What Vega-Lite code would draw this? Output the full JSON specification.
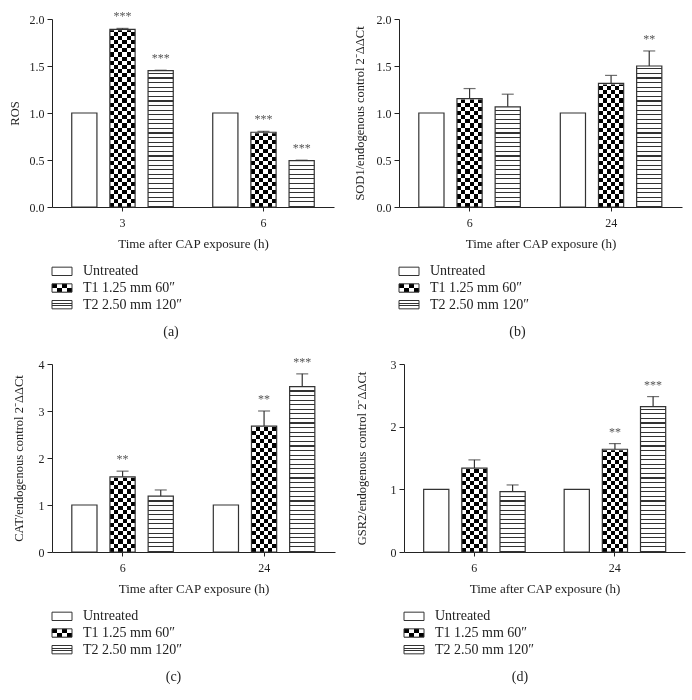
{
"$schema": "https://vega.github.io/schema/vega-lite/v6.json",
"background": "white",
"padding": {"left": 8, "top": 10, "right": 5, "bottom": 5},
"params": [
  {"name": "gChkV", "value": {"gradient": "linear", "x1": 0, "y1": 0, "x2": 1, "y2": 0, "stops": [
      {"offset": 0, "color": "black"}, {"offset": 0.16667, "color": "black"},
      {"offset": 0.16667, "color": "white"}, {"offset": 0.33333, "color": "white"},
      {"offset": 0.33333, "color": "black"}, {"offset": 0.5, "color": "black"},
      {"offset": 0.5, "color": "white"}, {"offset": 0.66667, "color": "white"},
      {"offset": 0.66667, "color": "black"}, {"offset": 0.83333, "color": "black"},
      {"offset": 0.83333, "color": "white"}, {"offset": 1, "color": "white"}]}},
  {"name": "gChkH", "value": {"gradient": "linear", "x1": 0, "y1": 0, "x2": 0, "y2": 1, "stops": [
      {"offset":0,"color":"black"},{"offset":0.02222,"color":"black"},
      {"offset":0.02222,"color":"white"},{"offset":0.04444,"color":"white"},
      {"offset":0.04444,"color":"black"},{"offset":0.06667,"color":"black"},
      {"offset":0.06667,"color":"white"},{"offset":0.08889,"color":"white"},
      {"offset":0.08889,"color":"black"},{"offset":0.11111,"color":"black"},
      {"offset":0.11111,"color":"white"},{"offset":0.13333,"color":"white"},
      {"offset":0.13333,"color":"black"},{"offset":0.15556,"color":"black"},
      {"offset":0.15556,"color":"white"},{"offset":0.17778,"color":"white"},
      {"offset":0.17778,"color":"black"},{"offset":0.2,"color":"black"},
      {"offset":0.2,"color":"white"},{"offset":0.22222,"color":"white"},
      {"offset":0.22222,"color":"black"},{"offset":0.24444,"color":"black"},
      {"offset":0.24444,"color":"white"},{"offset":0.26667,"color":"white"},
      {"offset":0.26667,"color":"black"},{"offset":0.28889,"color":"black"},
      {"offset":0.28889,"color":"white"},{"offset":0.31111,"color":"white"},
      {"offset":0.31111,"color":"black"},{"offset":0.33333,"color":"black"},
      {"offset":0.33333,"color":"white"},{"offset":0.35556,"color":"white"},
      {"offset":0.35556,"color":"black"},{"offset":0.37778,"color":"black"},
      {"offset":0.37778,"color":"white"},{"offset":0.4,"color":"white"},
      {"offset":0.4,"color":"black"},{"offset":0.42222,"color":"black"},
      {"offset":0.42222,"color":"white"},{"offset":0.44444,"color":"white"},
      {"offset":0.44444,"color":"black"},{"offset":0.46667,"color":"black"},
      {"offset":0.46667,"color":"white"},{"offset":0.48889,"color":"white"},
      {"offset":0.48889,"color":"black"},{"offset":0.51111,"color":"black"},
      {"offset":0.51111,"color":"white"},{"offset":0.53333,"color":"white"},
      {"offset":0.53333,"color":"black"},{"offset":0.55556,"color":"black"},
      {"offset":0.55556,"color":"white"},{"offset":0.57778,"color":"white"},
      {"offset":0.57778,"color":"black"},{"offset":0.6,"color":"black"},
      {"offset":0.6,"color":"white"},{"offset":0.62222,"color":"white"},
      {"offset":0.62222,"color":"black"},{"offset":0.64444,"color":"black"},
      {"offset":0.64444,"color":"white"},{"offset":0.66667,"color":"white"},
      {"offset":0.66667,"color":"black"},{"offset":0.68889,"color":"black"},
      {"offset":0.68889,"color":"white"},{"offset":0.71111,"color":"white"},
      {"offset":0.71111,"color":"black"},{"offset":0.73333,"color":"black"},
      {"offset":0.73333,"color":"white"},{"offset":0.75556,"color":"white"},
      {"offset":0.75556,"color":"black"},{"offset":0.77778,"color":"black"},
      {"offset":0.77778,"color":"white"},{"offset":0.8,"color":"white"},
      {"offset":0.8,"color":"black"},{"offset":0.82222,"color":"black"},
      {"offset":0.82222,"color":"white"},{"offset":0.84444,"color":"white"},
      {"offset":0.84444,"color":"black"},{"offset":0.86667,"color":"black"},
      {"offset":0.86667,"color":"white"},{"offset":0.88889,"color":"white"},
      {"offset":0.88889,"color":"black"},{"offset":0.91111,"color":"black"},
      {"offset":0.91111,"color":"white"},{"offset":0.93333,"color":"white"},
      {"offset":0.93333,"color":"black"},{"offset":0.95556,"color":"black"},
      {"offset":0.95556,"color":"white"},{"offset":0.97778,"color":"white"},
      {"offset":0.97778,"color":"black"},{"offset":1,"color":"black"}]}},
  {"name": "gLines", "value": {"gradient": "linear", "x1": 0, "y1": 0, "x2": 0, "y2": 1, "stops": [
      {"offset":0,"color":"white"},
      {"offset":0.01829,"color":"white"},{"offset":0.01829,"color":"#333"},{"offset":0.02439,"color":"#333"},{"offset":0.02439,"color":"white"},
      {"offset":0.04268,"color":"white"},{"offset":0.04268,"color":"#333"},{"offset":0.04878,"color":"#333"},{"offset":0.04878,"color":"white"},
      {"offset":0.06707,"color":"white"},{"offset":0.06707,"color":"#333"},{"offset":0.07317,"color":"#333"},{"offset":0.07317,"color":"white"},
      {"offset":0.09146,"color":"white"},{"offset":0.09146,"color":"#333"},{"offset":0.09756,"color":"#333"},{"offset":0.09756,"color":"white"},
      {"offset":0.11585,"color":"white"},{"offset":0.11585,"color":"#333"},{"offset":0.12195,"color":"#333"},{"offset":0.12195,"color":"white"},
      {"offset":0.14024,"color":"white"},{"offset":0.14024,"color":"#333"},{"offset":0.14634,"color":"#333"},{"offset":0.14634,"color":"white"},
      {"offset":0.16463,"color":"white"},{"offset":0.16463,"color":"#333"},{"offset":0.17073,"color":"#333"},{"offset":0.17073,"color":"white"},
      {"offset":0.18902,"color":"white"},{"offset":0.18902,"color":"#333"},{"offset":0.19512,"color":"#333"},{"offset":0.19512,"color":"white"},
      {"offset":0.21341,"color":"white"},{"offset":0.21341,"color":"#333"},{"offset":0.21951,"color":"#333"},{"offset":0.21951,"color":"white"},
      {"offset":0.2378,"color":"white"},{"offset":0.2378,"color":"#333"},{"offset":0.2439,"color":"#333"},{"offset":0.2439,"color":"white"},
      {"offset":0.2622,"color":"white"},{"offset":0.2622,"color":"#333"},{"offset":0.26829,"color":"#333"},{"offset":0.26829,"color":"white"},
      {"offset":0.28659,"color":"white"},{"offset":0.28659,"color":"#333"},{"offset":0.29268,"color":"#333"},{"offset":0.29268,"color":"white"},
      {"offset":0.31098,"color":"white"},{"offset":0.31098,"color":"#333"},{"offset":0.31707,"color":"#333"},{"offset":0.31707,"color":"white"},
      {"offset":0.33537,"color":"white"},{"offset":0.33537,"color":"#333"},{"offset":0.34146,"color":"#333"},{"offset":0.34146,"color":"white"},
      {"offset":0.35976,"color":"white"},{"offset":0.35976,"color":"#333"},{"offset":0.36585,"color":"#333"},{"offset":0.36585,"color":"white"},
      {"offset":0.38415,"color":"white"},{"offset":0.38415,"color":"#333"},{"offset":0.39024,"color":"#333"},{"offset":0.39024,"color":"white"},
      {"offset":0.40854,"color":"white"},{"offset":0.40854,"color":"#333"},{"offset":0.41463,"color":"#333"},{"offset":0.41463,"color":"white"},
      {"offset":0.43293,"color":"white"},{"offset":0.43293,"color":"#333"},{"offset":0.43902,"color":"#333"},{"offset":0.43902,"color":"white"},
      {"offset":0.45732,"color":"white"},{"offset":0.45732,"color":"#333"},{"offset":0.46341,"color":"#333"},{"offset":0.46341,"color":"white"},
      {"offset":0.48171,"color":"white"},{"offset":0.48171,"color":"#333"},{"offset":0.4878,"color":"#333"},{"offset":0.4878,"color":"white"},
      {"offset":0.5061,"color":"white"},{"offset":0.5061,"color":"#333"},{"offset":0.5122,"color":"#333"},{"offset":0.5122,"color":"white"},
      {"offset":0.53049,"color":"white"},{"offset":0.53049,"color":"#333"},{"offset":0.53659,"color":"#333"},{"offset":0.53659,"color":"white"},
      {"offset":0.55488,"color":"white"},{"offset":0.55488,"color":"#333"},{"offset":0.56098,"color":"#333"},{"offset":0.56098,"color":"white"},
      {"offset":0.57927,"color":"white"},{"offset":0.57927,"color":"#333"},{"offset":0.58537,"color":"#333"},{"offset":0.58537,"color":"white"},
      {"offset":0.60366,"color":"white"},{"offset":0.60366,"color":"#333"},{"offset":0.60976,"color":"#333"},{"offset":0.60976,"color":"white"},
      {"offset":0.62805,"color":"white"},{"offset":0.62805,"color":"#333"},{"offset":0.63415,"color":"#333"},{"offset":0.63415,"color":"white"},
      {"offset":0.65244,"color":"white"},{"offset":0.65244,"color":"#333"},{"offset":0.65854,"color":"#333"},{"offset":0.65854,"color":"white"},
      {"offset":0.67683,"color":"white"},{"offset":0.67683,"color":"#333"},{"offset":0.68293,"color":"#333"},{"offset":0.68293,"color":"white"},
      {"offset":0.70122,"color":"white"},{"offset":0.70122,"color":"#333"},{"offset":0.70732,"color":"#333"},{"offset":0.70732,"color":"white"},
      {"offset":0.72561,"color":"white"},{"offset":0.72561,"color":"#333"},{"offset":0.73171,"color":"#333"},{"offset":0.73171,"color":"white"},
      {"offset":0.75,"color":"white"},{"offset":0.75,"color":"#333"},{"offset":0.7561,"color":"#333"},{"offset":0.7561,"color":"white"},
      {"offset":0.77439,"color":"white"},{"offset":0.77439,"color":"#333"},{"offset":0.78049,"color":"#333"},{"offset":0.78049,"color":"white"},
      {"offset":0.79878,"color":"white"},{"offset":0.79878,"color":"#333"},{"offset":0.80488,"color":"#333"},{"offset":0.80488,"color":"white"},
      {"offset":0.82317,"color":"white"},{"offset":0.82317,"color":"#333"},{"offset":0.82927,"color":"#333"},{"offset":0.82927,"color":"white"},
      {"offset":0.84756,"color":"white"},{"offset":0.84756,"color":"#333"},{"offset":0.85366,"color":"#333"},{"offset":0.85366,"color":"white"},
      {"offset":0.87195,"color":"white"},{"offset":0.87195,"color":"#333"},{"offset":0.87805,"color":"#333"},{"offset":0.87805,"color":"white"},
      {"offset":0.89634,"color":"white"},{"offset":0.89634,"color":"#333"},{"offset":0.90244,"color":"#333"},{"offset":0.90244,"color":"white"},
      {"offset":0.92073,"color":"white"},{"offset":0.92073,"color":"#333"},{"offset":0.92683,"color":"#333"},{"offset":0.92683,"color":"white"},
      {"offset":0.94512,"color":"white"},{"offset":0.94512,"color":"#333"},{"offset":0.95122,"color":"#333"},{"offset":0.95122,"color":"white"},
      {"offset":0.96951,"color":"white"},{"offset":0.96951,"color":"#333"},{"offset":0.97561,"color":"#333"},{"offset":0.97561,"color":"white"},
      {"offset":0.9939,"color":"white"},{"offset":0.9939,"color":"#333"},{"offset":1,"color":"#333"}]}},
  {"name": "gLChkV", "value": {"gradient": "linear", "x1": 0, "y1": 0, "x2": 1, "y2": 0, "stops": [
      {"offset": 0, "color": "black"}, {"offset": 0.25, "color": "black"},
      {"offset": 0.25, "color": "white"}, {"offset": 0.5, "color": "white"},
      {"offset": 0.5, "color": "black"}, {"offset": 0.75, "color": "black"},
      {"offset": 0.75, "color": "white"}, {"offset": 1, "color": "white"}]}},
  {"name": "gLChkH", "value": {"gradient": "linear", "x1": 0, "y1": 0, "x2": 0, "y2": 1, "stops": [
      {"offset": 0, "color": "black"}, {"offset": 0.5, "color": "black"},
      {"offset": 0.5, "color": "white"}, {"offset": 1, "color": "white"}]}},
  {"name": "gLLines", "value": {"gradient": "linear", "x1": 0, "y1": 0, "x2": 0, "y2": 1, "stops": [
      {"offset": 0, "color": "white"}, {"offset": 0.28, "color": "white"},
      {"offset": 0.28, "color": "#333"}, {"offset": 0.4, "color": "#333"},
      {"offset": 0.4, "color": "white"}, {"offset": 0.6, "color": "white"},
      {"offset": 0.6, "color": "#333"}, {"offset": 0.72, "color": "#333"},
      {"offset": 0.72, "color": "white"}, {"offset": 1, "color": "white"}]}}
],
"config": {
  "font": "Liberation Serif",
  "view": {"stroke": null},
  "axis": {"labelFont": "Liberation Serif", "titleFont": "Liberation Serif", "labelFontSize": 12, "titleFontSize": 12.5, "titleFontWeight": "normal", "domainColor": "#222", "tickColor": "#222", "labelColor": "#222", "titleColor": "#222", "grid": false, "tickSize": 5, "domainWidth": 1, "tickWidth": 1},
  "axisX": {"labelAngle": 0, "labelPadding": 6, "titlePadding": 9, "tickSize": 4, "titleFontSize": 13},
  "axisY": {"labelPadding": 3},
  "title": {"font": "Liberation Serif", "fontSize": 14, "fontWeight": "normal", "color": "#222", "anchor": "middle"},
  "text": {"font": "Liberation Serif", "color": "#222"}
},
"datasets": {
  "leg": [
    {"k": "U", "label": "Untreated"},
    {"k": "T1", "label": "T1 1.25 mm 60″"},
    {"k": "T2", "label": "T2 2.50 mm 120″"}
  ],
  "ros": [
    {"time": "3", "g": "U", "v": 1.0, "hi": 1.0, "s": ""},
    {"time": "3", "g": "T1", "v": 1.89, "hi": 1.9, "s": "***"},
    {"time": "3", "g": "T2", "v": 1.45, "hi": 1.455, "s": "***"},
    {"time": "6", "g": "U", "v": 1.0, "hi": 1.0, "s": ""},
    {"time": "6", "g": "T1", "v": 0.795, "hi": 0.805, "s": "***"},
    {"time": "6", "g": "T2", "v": 0.493, "hi": 0.498, "s": "***"}
  ],
  "sod": [
    {"time": "6", "g": "U", "v": 1.0, "hi": 1.0, "s": ""},
    {"time": "6", "g": "T1", "v": 1.153, "hi": 1.26, "s": ""},
    {"time": "6", "g": "T2", "v": 1.066, "hi": 1.2, "s": ""},
    {"time": "24", "g": "U", "v": 1.0, "hi": 1.0, "s": ""},
    {"time": "24", "g": "T1", "v": 1.315, "hi": 1.4, "s": ""},
    {"time": "24", "g": "T2", "v": 1.5, "hi": 1.66, "s": "**"}
  ],
  "cat": [
    {"time": "6", "g": "U", "v": 1.0, "hi": 1.0, "s": ""},
    {"time": "6", "g": "T1", "v": 1.6, "hi": 1.72, "s": "**"},
    {"time": "6", "g": "T2", "v": 1.19, "hi": 1.32, "s": ""},
    {"time": "24", "g": "U", "v": 1.0, "hi": 1.0, "s": ""},
    {"time": "24", "g": "T1", "v": 2.68, "hi": 3.0, "s": "**"},
    {"time": "24", "g": "T2", "v": 3.52, "hi": 3.79, "s": "***"}
  ],
  "gsr": [
    {"time": "6", "g": "U", "v": 1.0, "hi": 1.0, "s": ""},
    {"time": "6", "g": "T1", "v": 1.34, "hi": 1.47, "s": ""},
    {"time": "6", "g": "T2", "v": 0.965, "hi": 1.07, "s": ""},
    {"time": "24", "g": "U", "v": 1.0, "hi": 1.0, "s": ""},
    {"time": "24", "g": "T1", "v": 1.64, "hi": 1.73, "s": "**"},
    {"time": "24", "g": "T2", "v": 2.32, "hi": 2.48, "s": "***"}
  ]
},
"spacing": 16,
"vconcat": [
 {"hconcat": [
  {"title": {"text": "(a)", "orient": "bottom", "offset": 12}, "spacing": 13, "vconcat": [
   {"width": 282, "height": 188, "data": {"name": "ros"},
    "encoding": {
      "x": {"field": "time", "type": "nominal", "scale": {"domain": ["3", "6"], "paddingInner": 0.28, "paddingOuter": 0.14}, "axis": {"title": "Time after CAP exposure (h)"}},
      "xOffset": {"field": "g", "type": "nominal", "scale": {"domain": ["U", "T1", "T2"], "paddingInner": 0.34, "paddingOuter": 0}}
    },
    "layer": [
      {"transform": [{"filter": "datum.g === 'T1'"}], "mark": {"type": "bar", "fill": {"expr": "gChkV"}}, "encoding": {"y": {"datum": 2, "type": "quantitative", "title": "ROS"}, "y2": {"datum": 0}}},
      {"transform": [{"filter": "datum.g === 'T1'"}], "mark": {"type": "bar", "fill": {"expr": "gChkH"}, "blend": "difference"}, "encoding": {"y": {"datum": 2, "type": "quantitative", "title": "ROS"}, "y2": {"datum": 0}}},
      {"transform": [{"filter": "datum.g === 'T2'"}], "mark": {"type": "bar", "fill": {"expr": "gLines"}}, "encoding": {"y": {"datum": 2, "type": "quantitative", "title": "ROS"}, "y2": {"datum": 0}}},
      {"transform": [{"filter": "datum.g !== 'U'"}], "mark": {"type": "bar", "fill": "white", "stroke": "white", "strokeWidth": 2}, "encoding": {"y": {"field": "v", "type": "quantitative", "title": "ROS"}, "y2": {"datum": 2}}},
      {"mark": {"type": "bar", "fill": "transparent", "stroke": "#333", "strokeWidth": 1.2}, "encoding": {"y": {"field": "v", "type": "quantitative", "title": "ROS", "scale": {"domain": [0, 2], "nice": false}, "axis": {"values": [0, 0.5, 1, 1.5, 2], "format": ".1f", "titlePadding": 8}}}},
      {"transform": [{"filter": "datum.g !== 'U'"}], "mark": {"type": "rule", "stroke": "#333", "strokeWidth": 1.2}, "encoding": {"y": {"field": "v", "type": "quantitative", "title": "ROS"}, "y2": {"field": "hi"}}},
      {"transform": [{"filter": "datum.g !== 'U'"}], "mark": {"type": "tick", "orient": "horizontal", "size": 12, "thickness": 1.2, "color": "#333"}, "encoding": {"y": {"field": "hi", "type": "quantitative", "title": "ROS"}}},
      {"mark": {"type": "text", "dy": -12, "fontSize": 12, "color": "#555"}, "encoding": {"y": {"field": "hi", "type": "quantitative", "title": "ROS"}, "text": {"field": "s"}}}
    ]},
   {"width": 200, "height": 50, "data": {"name": "leg"},
    "encoding": {
      "y": {"field": "k", "type": "nominal", "scale": {"domain": ["U", "T1", "T2"], "paddingInner": 0.5, "paddingOuter": 0.25}, "axis": null},
      "x": {"datum": 0, "type": "quantitative", "scale": {"domain": [0, 200], "nice": false}, "axis": null}
    },
    "layer": [
      {"transform": [{"filter": "datum.k === 'T1'"}], "mark": {"type": "bar", "fill": {"expr": "gLChkV"}}, "encoding": {"x2": {"datum": 20}}},
      {"transform": [{"filter": "datum.k === 'T1'"}], "mark": {"type": "bar", "fill": {"expr": "gLChkH"}, "blend": "difference"}, "encoding": {"x2": {"datum": 20}}},
      {"transform": [{"filter": "datum.k === 'T2'"}], "mark": {"type": "bar", "fill": {"expr": "gLLines"}}, "encoding": {"x2": {"datum": 20}}},
      {"mark": {"type": "bar", "fill": "transparent", "stroke": "#333", "strokeWidth": 1}, "encoding": {"x2": {"datum": 20}}},
      {"mark": {"type": "text", "align": "left", "baseline": "middle", "fontSize": 14}, "encoding": {"x": {"datum": 31, "type": "quantitative"}, "text": {"field": "label"}}}
    ]}
  ]},
  {"title": {"text": "(b)", "orient": "bottom", "offset": 12}, "spacing": 13, "vconcat": [
   {"width": 283, "height": 188, "data": {"name": "sod"},
    "encoding": {
      "x": {"field": "time", "type": "nominal", "scale": {"domain": ["6", "24"], "paddingInner": 0.28, "paddingOuter": 0.14}, "axis": {"title": "Time after CAP exposure (h)"}},
      "xOffset": {"field": "g", "type": "nominal", "scale": {"domain": ["U", "T1", "T2"], "paddingInner": 0.34, "paddingOuter": 0}}
    },
    "layer": [
      {"transform": [{"filter": "datum.g === 'T1'"}], "mark": {"type": "bar", "fill": {"expr": "gChkV"}}, "encoding": {"y": {"datum": 2, "type": "quantitative", "title": "SOD1/endogenous control 2⁻ΔΔCt"}, "y2": {"datum": 0}}},
      {"transform": [{"filter": "datum.g === 'T1'"}], "mark": {"type": "bar", "fill": {"expr": "gChkH"}, "blend": "difference"}, "encoding": {"y": {"datum": 2, "type": "quantitative", "title": "SOD1/endogenous control 2⁻ΔΔCt"}, "y2": {"datum": 0}}},
      {"transform": [{"filter": "datum.g === 'T2'"}], "mark": {"type": "bar", "fill": {"expr": "gLines"}}, "encoding": {"y": {"datum": 2, "type": "quantitative", "title": "SOD1/endogenous control 2⁻ΔΔCt"}, "y2": {"datum": 0}}},
      {"transform": [{"filter": "datum.g !== 'U'"}], "mark": {"type": "bar", "fill": "white", "stroke": "white", "strokeWidth": 2}, "encoding": {"y": {"field": "v", "type": "quantitative", "title": "SOD1/endogenous control 2⁻ΔΔCt"}, "y2": {"datum": 2}}},
      {"mark": {"type": "bar", "fill": "transparent", "stroke": "#333", "strokeWidth": 1.2}, "encoding": {"y": {"field": "v", "type": "quantitative", "title": "SOD1/endogenous control 2⁻ΔΔCt", "scale": {"domain": [0, 2], "nice": false}, "axis": {"values": [0, 0.5, 1, 1.5, 2], "format": ".1f", "titlePadding": 10}}}},
      {"transform": [{"filter": "datum.g !== 'U'"}], "mark": {"type": "rule", "stroke": "#333", "strokeWidth": 1.2}, "encoding": {"y": {"field": "v", "type": "quantitative", "title": "SOD1/endogenous control 2⁻ΔΔCt"}, "y2": {"field": "hi"}}},
      {"transform": [{"filter": "datum.g !== 'U'"}], "mark": {"type": "tick", "orient": "horizontal", "size": 12, "thickness": 1.2, "color": "#333"}, "encoding": {"y": {"field": "hi", "type": "quantitative", "title": "SOD1/endogenous control 2⁻ΔΔCt"}}},
      {"mark": {"type": "text", "dy": -12, "fontSize": 12, "color": "#555"}, "encoding": {"y": {"field": "hi", "type": "quantitative", "title": "SOD1/endogenous control 2⁻ΔΔCt"}, "text": {"field": "s"}}}
    ]},
   {"width": 200, "height": 50, "data": {"name": "leg"},
    "encoding": {
      "y": {"field": "k", "type": "nominal", "scale": {"domain": ["U", "T1", "T2"], "paddingInner": 0.5, "paddingOuter": 0.25}, "axis": null},
      "x": {"datum": 0, "type": "quantitative", "scale": {"domain": [0, 200], "nice": false}, "axis": null}
    },
    "layer": [
      {"transform": [{"filter": "datum.k === 'T1'"}], "mark": {"type": "bar", "fill": {"expr": "gLChkV"}}, "encoding": {"x2": {"datum": 20}}},
      {"transform": [{"filter": "datum.k === 'T1'"}], "mark": {"type": "bar", "fill": {"expr": "gLChkH"}, "blend": "difference"}, "encoding": {"x2": {"datum": 20}}},
      {"transform": [{"filter": "datum.k === 'T2'"}], "mark": {"type": "bar", "fill": {"expr": "gLLines"}}, "encoding": {"x2": {"datum": 20}}},
      {"mark": {"type": "bar", "fill": "transparent", "stroke": "#333", "strokeWidth": 1}, "encoding": {"x2": {"datum": 20}}},
      {"mark": {"type": "text", "align": "left", "baseline": "middle", "fontSize": 14}, "encoding": {"x": {"datum": 31, "type": "quantitative"}, "text": {"field": "label"}}}
    ]}
  ]}
 ], "spacing": 19},
 {"hconcat": [
  {"title": {"text": "(c)", "orient": "bottom", "offset": 12}, "spacing": 13, "vconcat": [
   {"width": 283, "height": 188, "data": {"name": "cat"},
    "encoding": {
      "x": {"field": "time", "type": "nominal", "scale": {"domain": ["6", "24"], "paddingInner": 0.28, "paddingOuter": 0.14}, "axis": {"title": "Time after CAP exposure (h)"}},
      "xOffset": {"field": "g", "type": "nominal", "scale": {"domain": ["U", "T1", "T2"], "paddingInner": 0.34, "paddingOuter": 0}}
    },
    "layer": [
      {"transform": [{"filter": "datum.g === 'T1'"}], "mark": {"type": "bar", "fill": {"expr": "gChkV"}}, "encoding": {"y": {"datum": 4, "type": "quantitative", "title": "CAT/endogenous control 2⁻ΔΔCt"}, "y2": {"datum": 0}}},
      {"transform": [{"filter": "datum.g === 'T1'"}], "mark": {"type": "bar", "fill": {"expr": "gChkH"}, "blend": "difference"}, "encoding": {"y": {"datum": 4, "type": "quantitative", "title": "CAT/endogenous control 2⁻ΔΔCt"}, "y2": {"datum": 0}}},
      {"transform": [{"filter": "datum.g === 'T2'"}], "mark": {"type": "bar", "fill": {"expr": "gLines"}}, "encoding": {"y": {"datum": 4, "type": "quantitative", "title": "CAT/endogenous control 2⁻ΔΔCt"}, "y2": {"datum": 0}}},
      {"transform": [{"filter": "datum.g !== 'U'"}], "mark": {"type": "bar", "fill": "white", "stroke": "white", "strokeWidth": 2}, "encoding": {"y": {"field": "v", "type": "quantitative", "title": "CAT/endogenous control 2⁻ΔΔCt"}, "y2": {"datum": 4}}},
      {"mark": {"type": "bar", "fill": "transparent", "stroke": "#333", "strokeWidth": 1.2}, "encoding": {"y": {"field": "v", "type": "quantitative", "title": "CAT/endogenous control 2⁻ΔΔCt", "scale": {"domain": [0, 4], "nice": false}, "axis": {"values": [0, 1, 2, 3, 4], "format": "d", "titlePadding": 13}}}},
      {"transform": [{"filter": "datum.g !== 'U'"}], "mark": {"type": "rule", "stroke": "#333", "strokeWidth": 1.2}, "encoding": {"y": {"field": "v", "type": "quantitative", "title": "CAT/endogenous control 2⁻ΔΔCt"}, "y2": {"field": "hi"}}},
      {"transform": [{"filter": "datum.g !== 'U'"}], "mark": {"type": "tick", "orient": "horizontal", "size": 12, "thickness": 1.2, "color": "#333"}, "encoding": {"y": {"field": "hi", "type": "quantitative", "title": "CAT/endogenous control 2⁻ΔΔCt"}}},
      {"mark": {"type": "text", "dy": -12, "fontSize": 12, "color": "#555"}, "encoding": {"y": {"field": "hi", "type": "quantitative", "title": "CAT/endogenous control 2⁻ΔΔCt"}, "text": {"field": "s"}}}
    ]},
   {"width": 200, "height": 50, "data": {"name": "leg"},
    "encoding": {
      "y": {"field": "k", "type": "nominal", "scale": {"domain": ["U", "T1", "T2"], "paddingInner": 0.5, "paddingOuter": 0.25}, "axis": null},
      "x": {"datum": 0, "type": "quantitative", "scale": {"domain": [0, 200], "nice": false}, "axis": null}
    },
    "layer": [
      {"transform": [{"filter": "datum.k === 'T1'"}], "mark": {"type": "bar", "fill": {"expr": "gLChkV"}}, "encoding": {"x2": {"datum": 20}}},
      {"transform": [{"filter": "datum.k === 'T1'"}], "mark": {"type": "bar", "fill": {"expr": "gLChkH"}, "blend": "difference"}, "encoding": {"x2": {"datum": 20}}},
      {"transform": [{"filter": "datum.k === 'T2'"}], "mark": {"type": "bar", "fill": {"expr": "gLLines"}}, "encoding": {"x2": {"datum": 20}}},
      {"mark": {"type": "bar", "fill": "transparent", "stroke": "#333", "strokeWidth": 1}, "encoding": {"x2": {"datum": 20}}},
      {"mark": {"type": "text", "align": "left", "baseline": "middle", "fontSize": 14}, "encoding": {"x": {"datum": 31, "type": "quantitative"}, "text": {"field": "label"}}}
    ]}
  ]},
  {"title": {"text": "(d)", "orient": "bottom", "offset": 12}, "spacing": 13, "vconcat": [
   {"width": 281, "height": 188, "data": {"name": "gsr"},
    "encoding": {
      "x": {"field": "time", "type": "nominal", "scale": {"domain": ["6", "24"], "paddingInner": 0.28, "paddingOuter": 0.14}, "axis": {"title": "Time after CAP exposure (h)"}},
      "xOffset": {"field": "g", "type": "nominal", "scale": {"domain": ["U", "T1", "T2"], "paddingInner": 0.34, "paddingOuter": 0}}
    },
    "layer": [
      {"transform": [{"filter": "datum.g === 'T1'"}], "mark": {"type": "bar", "fill": {"expr": "gChkV"}}, "encoding": {"y": {"datum": 3, "type": "quantitative", "title": "GSR2/endogenous control 2⁻ΔΔCt"}, "y2": {"datum": 0}}},
      {"transform": [{"filter": "datum.g === 'T1'"}], "mark": {"type": "bar", "fill": {"expr": "gChkH"}, "blend": "difference"}, "encoding": {"y": {"datum": 3, "type": "quantitative", "title": "GSR2/endogenous control 2⁻ΔΔCt"}, "y2": {"datum": 0}}},
      {"transform": [{"filter": "datum.g === 'T2'"}], "mark": {"type": "bar", "fill": {"expr": "gLines"}}, "encoding": {"y": {"datum": 3, "type": "quantitative", "title": "GSR2/endogenous control 2⁻ΔΔCt"}, "y2": {"datum": 0}}},
      {"transform": [{"filter": "datum.g !== 'U'"}], "mark": {"type": "bar", "fill": "white", "stroke": "white", "strokeWidth": 2}, "encoding": {"y": {"field": "v", "type": "quantitative", "title": "GSR2/endogenous control 2⁻ΔΔCt"}, "y2": {"datum": 3}}},
      {"mark": {"type": "bar", "fill": "transparent", "stroke": "#333", "strokeWidth": 1.2}, "encoding": {"y": {"field": "v", "type": "quantitative", "title": "GSR2/endogenous control 2⁻ΔΔCt", "scale": {"domain": [0, 3], "nice": false}, "axis": {"values": [0, 1, 2, 3], "format": "d", "titlePadding": 22}}}},
      {"transform": [{"filter": "datum.g !== 'U'"}], "mark": {"type": "rule", "stroke": "#333", "strokeWidth": 1.2}, "encoding": {"y": {"field": "v", "type": "quantitative", "title": "GSR2/endogenous control 2⁻ΔΔCt"}, "y2": {"field": "hi"}}},
      {"transform": [{"filter": "datum.g !== 'U'"}], "mark": {"type": "tick", "orient": "horizontal", "size": 12, "thickness": 1.2, "color": "#333"}, "encoding": {"y": {"field": "hi", "type": "quantitative", "title": "GSR2/endogenous control 2⁻ΔΔCt"}}},
      {"mark": {"type": "text", "dy": -12, "fontSize": 12, "color": "#555"}, "encoding": {"y": {"field": "hi", "type": "quantitative", "title": "GSR2/endogenous control 2⁻ΔΔCt"}, "text": {"field": "s"}}}
    ]},
   {"width": 200, "height": 50, "data": {"name": "leg"},
    "encoding": {
      "y": {"field": "k", "type": "nominal", "scale": {"domain": ["U", "T1", "T2"], "paddingInner": 0.5, "paddingOuter": 0.25}, "axis": null},
      "x": {"datum": 0, "type": "quantitative", "scale": {"domain": [0, 200], "nice": false}, "axis": null}
    },
    "layer": [
      {"transform": [{"filter": "datum.k === 'T1'"}], "mark": {"type": "bar", "fill": {"expr": "gLChkV"}}, "encoding": {"x2": {"datum": 20}}},
      {"transform": [{"filter": "datum.k === 'T1'"}], "mark": {"type": "bar", "fill": {"expr": "gLChkH"}, "blend": "difference"}, "encoding": {"x2": {"datum": 20}}},
      {"transform": [{"filter": "datum.k === 'T2'"}], "mark": {"type": "bar", "fill": {"expr": "gLLines"}}, "encoding": {"x2": {"datum": 20}}},
      {"mark": {"type": "bar", "fill": "transparent", "stroke": "#333", "strokeWidth": 1}, "encoding": {"x2": {"datum": 20}}},
      {"mark": {"type": "text", "align": "left", "baseline": "middle", "fontSize": 14}, "encoding": {"x": {"datum": 31, "type": "quantitative"}, "text": {"field": "label"}}}
    ]}
  ]}
 ], "spacing": 20}
]
}
